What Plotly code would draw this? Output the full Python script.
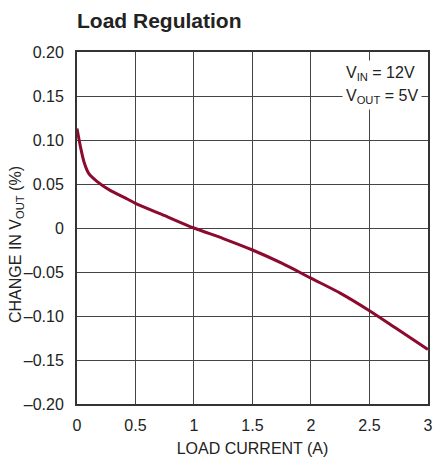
import plotly.graph_objects as go

load_current = [0, 0.03, 0.06, 0.1, 0.17, 0.28, 0.43, 0.5, 0.75, 1.0, 1.25, 1.5, 1.75, 2.0, 2.25, 2.5, 2.75, 3.0]
change_vout = [0.113, 0.092, 0.075, 0.062, 0.053, 0.043, 0.033, 0.028, 0.014, 0.0, -0.012, -0.025, -0.040, -0.057, -0.074, -0.094, -0.116, -0.138]

x_ticks = [0, 0.5, 1, 1.5, 2, 2.5, 3]
x_tick_labels = ["0", "0.5", "1", "1.5", "2", "2.5", "3"]
y_ticks = [0.20, 0.15, 0.10, 0.05, 0, -0.05, -0.10, -0.15, -0.20]
y_tick_labels = ["0.20", "0.15", "0.10", "0.05", "0", "\u20130.05", "\u20130.10", "\u20130.15", "\u20130.20"]

FONT = "Liberation Sans Narrow, Arial Narrow, Liberation Sans, Arial, sans-serif"
TXT = "#222"

W, H = 435, 464
L, R, T, B = 77, 7, 52, 60

fig = go.Figure()
fig.add_trace(go.Scatter(
    x=load_current, y=change_vout, mode="lines",
    line=dict(color="#8c0a2e", width=3, shape="spline", smoothing=0.8),
    hoverinfo="skip", showlegend=False,
))

axis_common = dict(
    showgrid=True, gridcolor="#444", gridwidth=1,
    showline=True, linecolor="#333", linewidth=2, mirror=True,
    ticks="", zeroline=False, automargin=False,
    tickfont=dict(family=FONT, size=16, color=TXT),
)

fig.update_xaxes(range=[0, 3.0005], tickvals=x_ticks, ticktext=x_tick_labels,
                 ticklabelstandoff=6, ticklabeloverflow="allow",
                 title=dict(text="LOAD CURRENT (A)", font=dict(family=FONT, size=16, color=TXT), standoff=10),
                 **axis_common)
fig.update_yaxes(range=[-0.20, 0.20], tickvals=y_ticks, ticktext=y_tick_labels,
                 ticklabelstandoff=8,
                 **axis_common)

# Y axis title (placed slightly below centre, as in the reference)
fig.add_annotation(
    x=(16 - L) / 351, y=(404 - 245) / 352, xref="paper", yref="paper",
    xanchor="center", yanchor="middle", textangle=-90, showarrow=False,
    text="CHANGE IN V<sub>OUT</sub> (%)", font=dict(family=FONT, size=16, color=TXT),
)

# Condition labels
fig.add_annotation(
    x=(342 - L) / 351, y=(404 - 73) / 352, xref="paper", yref="paper",
    xanchor="left", yanchor="middle", showarrow=False,
    text="V<sub>IN</sub> = 12V", bgcolor="white", borderpad=3,
    font=dict(family=FONT, size=16, color=TXT),
)
fig.add_annotation(
    x=(342 - L) / 351, y=(404 - 96) / 352, xref="paper", yref="paper",
    xanchor="left", yanchor="middle", showarrow=False,
    text="V<sub>OUT</sub> = 5V", bgcolor="white", borderpad=3,
    font=dict(family=FONT, size=16, color=TXT),
)

fig.update_layout(
    width=W, height=H,
    margin=dict(l=L, r=R, t=T, b=B),
    paper_bgcolor="white", plot_bgcolor="white",
    title=dict(text="<b>Load Regulation</b>", xref="container", x=L / W, xanchor="left",
               yref="container", y=1 - 21 / H, yanchor="middle",
               font=dict(family=FONT, size=21, color=TXT)),
)

# remove the browser's default 8px body margin so the figure fills the window exactly
fig.write_html("out.html",
               config={"displayModeBar": False},
               post_script="document.body.style.margin='0';document.documentElement.style.overflow='hidden';")
